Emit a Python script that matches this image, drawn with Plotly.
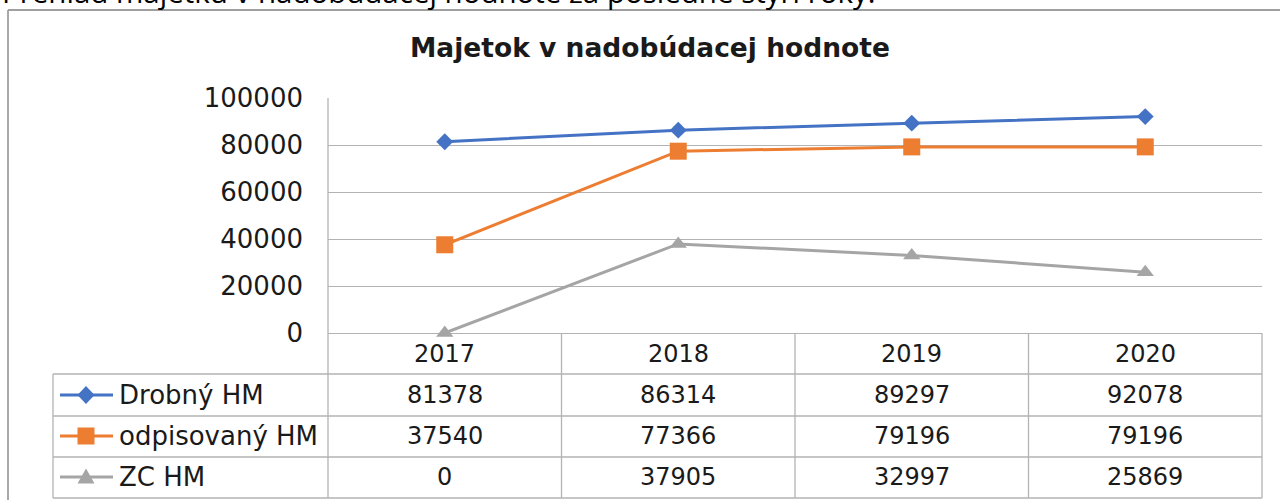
import plotly.graph_objects as go

# ---- data ----
years = ["2017", "2018", "2019", "2020"]
series_names = ["Drobný HM", "odpisovaný HM", "ZC HM"]
drobny = [81378, 86314, 89297, 92078]
odpisovany = [37540, 77366, 79196, 79196]
zc = [0, 37905, 32997, 25869]
y_ticks = [0, 20000, 40000, 60000, 80000, 100000]
chart_title = "Majetok v nadobúdacej hodnote"
caption = "Prehľad majetku v nadobúdacej hodnote za posledné štyri roky."

series_values = [drobny, odpisovany, zc]
colors = ["#4472C4", "#ED7D31", "#A5A5A5"]
symbols = ["diamond", "square", "triangle-up"]
msizes = [13, 17, 15]

# ---- layout geometry (pixels) ----
W, H = 1280, 500
PL, PR, PT, PB = 328, 1262, 98, 333
GRID = "#B3B3B3"
TXT = "#1a1a1a"
FONT = "DejaVu Sans"


def px_x(px):
    return (px - PL) / (PR - PL)


def px_y(py):
    return (PB - py) / (PB - PT)


fig = go.Figure()
for name, vals, c, s, ms in zip(series_names, series_values, colors, symbols, msizes):
    fig.add_trace(go.Scatter(
        x=years, y=vals, name=name, mode="lines+markers",
        line=dict(color=c, width=3),
        marker=dict(symbol=s, size=ms, color=c, line=dict(width=0)),
        showlegend=False, cliponaxis=False,
    ))

shapes = []
annotations = []


def line(x0, y0, x1, y1, xref="paper", yref="paper", color=GRID, width=1.3):
    shapes.append(dict(type="line", x0=x0, y0=y0, x1=x1, y1=y1, xref=xref, yref=yref,
                       line=dict(color=color, width=width), layer="below"))


# outer chart frame (top + left)
line(px_x(8), px_y(10), px_x(W + 5), px_y(10), color="#A0A0A0", width=1.8)
line(px_x(8), px_y(10), px_x(8), px_y(H + 5), color="#A0A0A0", width=1.8)

# data table grid
row_lines = [374, 416, 457, 498]
for ry in row_lines:
    line(px_x(53), px_y(ry), 1, px_y(ry))
line(px_x(53), px_y(374), px_x(53), px_y(498))
line(0, 1, 0, px_y(498))
line(1, 0, 1, px_y(498))
for b in [0.5, 1.5, 2.5]:
    line(b, 0, b, px_y(498), xref="x")

# header years
for i, yr in enumerate(years):
    annotations.append(dict(x=i, y=px_y(354), xref="x", yref="paper", text=yr,
                            xanchor="center", yanchor="middle",
                            showarrow=False, font=dict(family=FONT, size=24, color=TXT)))

row_centers = [395, 436, 477]
for name, vals, c, s, rc in zip(series_names, series_values, colors, symbols, row_centers):
    for i, v in enumerate(vals):
        annotations.append(dict(x=i, y=px_y(rc), xref="x", yref="paper", text=str(v),
                                xanchor="center", yanchor="middle",
                                showarrow=False, font=dict(family=FONT, size=24, color=TXT)))
    annotations.append(dict(x=px_x(117), y=px_y(rc), xref="paper", yref="paper", text=name,
                            xanchor="left", yanchor="middle", showarrow=False,
                            font=dict(family=FONT, size=26, color=TXT)))
    # legend key line
    shapes.append(dict(type="line", x0=px_x(60), x1=px_x(113), y0=px_y(rc), y1=px_y(rc),
                       xref="paper", yref="paper", line=dict(color=c, width=3)))
    cx, cy = 86, rc
    if s == "diamond":
        pts = [(cx, cy - 9), (cx + 8.5, cy), (cx, cy + 9), (cx - 8.5, cy)]
    elif s == "square":
        pts = [(cx - 8.5, cy - 8.5), (cx + 8.5, cy - 8.5), (cx + 8.5, cy + 8.5), (cx - 8.5, cy + 8.5)]
    else:
        pts = [(cx, cy - 8.5), (cx + 8.5, cy + 6.5), (cx - 8.5, cy + 6.5)]
    path = "M " + " L ".join(f"{px_x(a):.5f},{px_y(b):.5f}" for a, b in pts) + " Z"
    shapes.append(dict(type="path", path=path, xref="paper", yref="paper",
                       fillcolor=c, line=dict(color=c, width=0)))

# chart title
annotations.append(dict(x=px_x(650), y=px_y(48), xref="paper", yref="paper", text=chart_title,
                        xanchor="center", yanchor="middle",
                        showarrow=False, font=dict(family=FONT, size=26.5, color=TXT, weight="bold")))
# caption above the chart (cut by the page top)
annotations.append(dict(x=px_x(0), y=px_y(14), xref="paper", yref="paper", text=caption,
                        xanchor="left", yanchor="bottom", showarrow=False,
                        font=dict(family="Open Sans", size=29.5, color="#000000")))

fig.update_layout(
    width=W, height=H, autosize=False,
    margin=dict(l=PL, r=W - PR, t=PT, b=H - PB, pad=0),
    paper_bgcolor="white", plot_bgcolor="white",
    shapes=shapes, annotations=annotations,
    xaxis=dict(type="category", range=[-0.5, 3.5], showticklabels=False, showgrid=False,
               zeroline=False, showline=False, fixedrange=True),
    yaxis=dict(range=[0, 100000], tickvals=y_ticks, ticktext=[str(t) for t in y_ticks],
               showgrid=True, gridcolor=GRID, gridwidth=1.3,
               zeroline=True, zerolinecolor=GRID, zerolinewidth=1.3,
               showline=False, ticks="", ticklabelstandoff=24,
               tickfont=dict(family=FONT, size=26, color=TXT), fixedrange=True),
)

fig.write_html("out.html", config={"displayModeBar": False},
               post_script="document.body.style.margin='0';document.body.style.overflow='hidden';")
